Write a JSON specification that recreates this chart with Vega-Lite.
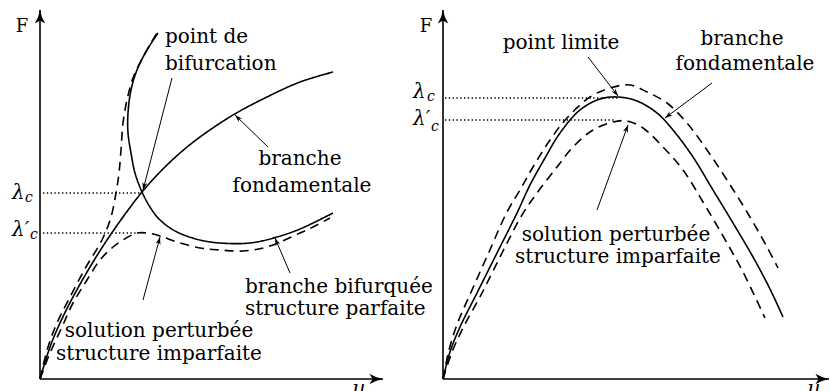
{
  "$schema": "https://vega.github.io/schema/vega-lite/v6.json",
  "padding": 0,
  "spacing": 0,
  "bounds": "flush",
  "background": "white",
  "config": {"view": {"stroke": null}},
  "datasets": {
    "gauche_courbes": [
      {"courbe": "fondamentale", "structure": "parfaite", "ord": 0, "u": 0, "F": 0},
      {"courbe": "fondamentale", "structure": "parfaite", "ord": 1, "u": 10, "F": 32},
      {"courbe": "fondamentale", "structure": "parfaite", "ord": 2, "u": 20, "F": 56},
      {"courbe": "fondamentale", "structure": "parfaite", "ord": 3, "u": 33, "F": 82},
      {"courbe": "fondamentale", "structure": "parfaite", "ord": 4, "u": 50, "F": 112},
      {"courbe": "fondamentale", "structure": "parfaite", "ord": 5, "u": 67, "F": 139},
      {"courbe": "fondamentale", "structure": "parfaite", "ord": 6, "u": 83, "F": 162},
      {"courbe": "fondamentale", "structure": "parfaite", "ord": 7, "u": 102, "F": 187},
      {"courbe": "fondamentale", "structure": "parfaite", "ord": 8, "u": 120, "F": 207},
      {"courbe": "fondamentale", "structure": "parfaite", "ord": 9, "u": 140, "F": 226},
      {"courbe": "fondamentale", "structure": "parfaite", "ord": 10, "u": 160, "F": 242},
      {"courbe": "fondamentale", "structure": "parfaite", "ord": 11, "u": 193, "F": 264},
      {"courbe": "fondamentale", "structure": "parfaite", "ord": 12, "u": 227, "F": 282},
      {"courbe": "fondamentale", "structure": "parfaite", "ord": 13, "u": 260, "F": 297},
      {"courbe": "fondamentale", "structure": "parfaite", "ord": 14, "u": 293, "F": 307},
      {"courbe": "bifurquee", "structure": "parfaite", "ord": 0, "u": 118, "F": 346},
      {"courbe": "bifurquee", "structure": "parfaite", "ord": 1, "u": 107, "F": 329},
      {"courbe": "bifurquee", "structure": "parfaite", "ord": 2, "u": 97, "F": 309},
      {"courbe": "bifurquee", "structure": "parfaite", "ord": 3, "u": 91, "F": 289},
      {"courbe": "bifurquee", "structure": "parfaite", "ord": 4, "u": 88, "F": 266},
      {"courbe": "bifurquee", "structure": "parfaite", "ord": 5, "u": 88, "F": 246},
      {"courbe": "bifurquee", "structure": "parfaite", "ord": 6, "u": 91, "F": 226},
      {"courbe": "bifurquee", "structure": "parfaite", "ord": 7, "u": 95, "F": 206},
      {"courbe": "bifurquee", "structure": "parfaite", "ord": 8, "u": 102, "F": 187},
      {"courbe": "bifurquee", "structure": "parfaite", "ord": 9, "u": 110, "F": 172},
      {"courbe": "bifurquee", "structure": "parfaite", "ord": 10, "u": 120, "F": 159},
      {"courbe": "bifurquee", "structure": "parfaite", "ord": 11, "u": 137, "F": 147},
      {"courbe": "bifurquee", "structure": "parfaite", "ord": 12, "u": 160, "F": 139},
      {"courbe": "bifurquee", "structure": "parfaite", "ord": 13, "u": 180, "F": 136},
      {"courbe": "bifurquee", "structure": "parfaite", "ord": 14, "u": 210, "F": 136},
      {"courbe": "bifurquee", "structure": "parfaite", "ord": 15, "u": 237, "F": 142},
      {"courbe": "bifurquee", "structure": "parfaite", "ord": 16, "u": 260, "F": 150},
      {"courbe": "bifurquee", "structure": "parfaite", "ord": 17, "u": 293, "F": 166},
      {"courbe": "perturbee_a", "structure": "imparfaite", "ord": 0, "u": 0, "F": 0},
      {"courbe": "perturbee_a", "structure": "imparfaite", "ord": 1, "u": 8, "F": 32},
      {"courbe": "perturbee_a", "structure": "imparfaite", "ord": 2, "u": 17, "F": 56},
      {"courbe": "perturbee_a", "structure": "imparfaite", "ord": 3, "u": 30, "F": 82},
      {"courbe": "perturbee_a", "structure": "imparfaite", "ord": 4, "u": 46, "F": 112},
      {"courbe": "perturbee_a", "structure": "imparfaite", "ord": 5, "u": 62, "F": 139},
      {"courbe": "perturbee_a", "structure": "imparfaite", "ord": 6, "u": 71, "F": 162},
      {"courbe": "perturbee_a", "structure": "imparfaite", "ord": 7, "u": 76, "F": 186},
      {"courbe": "perturbee_a", "structure": "imparfaite", "ord": 8, "u": 79, "F": 206},
      {"courbe": "perturbee_a", "structure": "imparfaite", "ord": 9, "u": 81, "F": 229},
      {"courbe": "perturbee_a", "structure": "imparfaite", "ord": 10, "u": 83, "F": 256},
      {"courbe": "perturbee_a", "structure": "imparfaite", "ord": 11, "u": 87, "F": 279},
      {"courbe": "perturbee_a", "structure": "imparfaite", "ord": 12, "u": 93, "F": 301},
      {"courbe": "perturbee_a", "structure": "imparfaite", "ord": 13, "u": 103, "F": 322},
      {"courbe": "perturbee_a", "structure": "imparfaite", "ord": 14, "u": 117, "F": 346},
      {"courbe": "perturbee_b", "structure": "imparfaite", "ord": 0, "u": 0, "F": 0},
      {"courbe": "perturbee_b", "structure": "imparfaite", "ord": 1, "u": 10, "F": 26},
      {"courbe": "perturbee_b", "structure": "imparfaite", "ord": 2, "u": 22, "F": 52},
      {"courbe": "perturbee_b", "structure": "imparfaite", "ord": 3, "u": 33, "F": 76},
      {"courbe": "perturbee_b", "structure": "imparfaite", "ord": 4, "u": 47, "F": 99},
      {"courbe": "perturbee_b", "structure": "imparfaite", "ord": 5, "u": 60, "F": 119},
      {"courbe": "perturbee_b", "structure": "imparfaite", "ord": 6, "u": 73, "F": 132},
      {"courbe": "perturbee_b", "structure": "imparfaite", "ord": 7, "u": 83, "F": 139},
      {"courbe": "perturbee_b", "structure": "imparfaite", "ord": 8, "u": 97, "F": 146},
      {"courbe": "perturbee_b", "structure": "imparfaite", "ord": 9, "u": 107, "F": 146},
      {"courbe": "perturbee_b", "structure": "imparfaite", "ord": 10, "u": 120, "F": 143},
      {"courbe": "perturbee_b", "structure": "imparfaite", "ord": 11, "u": 137, "F": 137},
      {"courbe": "perturbee_b", "structure": "imparfaite", "ord": 12, "u": 160, "F": 131},
      {"courbe": "perturbee_b", "structure": "imparfaite", "ord": 13, "u": 180, "F": 129},
      {"courbe": "perturbee_b", "structure": "imparfaite", "ord": 14, "u": 203, "F": 128},
      {"courbe": "perturbee_b", "structure": "imparfaite", "ord": 15, "u": 227, "F": 132},
      {"courbe": "perturbee_b", "structure": "imparfaite", "ord": 16, "u": 260, "F": 146},
      {"courbe": "perturbee_b", "structure": "imparfaite", "ord": 17, "u": 275, "F": 153},
      {"courbe": "perturbee_b", "structure": "imparfaite", "ord": 18, "u": 290, "F": 161}
    ],
    "gauche_pointilles": [
      {"niveau": "lambda_c", "u": 3, "u2": 100, "F": 186},
      {"niveau": "lambda_c_prime", "u": 3, "u2": 97, "F": 146}
    ],
    "gauche_axes": [
      {"axe": "F", "u": 0, "F": 0, "u2": 0, "F2": 369},
      {"axe": "u", "u": 0, "F": 0, "u2": 343, "F2": 0}
    ],
    "gauche_fleches": [
      {"cible": "point de bifurcation", "u": 132, "F": 301, "u2": 103, "F2": 189},
      {"cible": "branche fondamentale", "u": 228, "F": 232, "u2": 195, "F2": 264},
      {"cible": "solution perturbée", "u": 103, "F": 79, "u2": 120, "F2": 142},
      {"cible": "branche bifurquée", "u": 250, "F": 106, "u2": 235, "F2": 141}
    ],
    "gauche_textes": [
      {"role": "centre", "texte": "branche", "u": 260, "F": 214},
      {"role": "centre", "texte": "fondamentale", "u": 262, "F": 187},
      {"role": "centre", "texte": "solution perturbée", "u": 119, "F": 42},
      {"role": "centre", "texte": "structure imparfaite", "u": 119, "F": 19},
      {"role": "gauche", "texte": "point de", "u": 125, "F": 336},
      {"role": "gauche", "texte": "bifurcation", "u": 125, "F": 309},
      {"role": "gauche", "texte": "branche bifurquée", "u": 205, "F": 86},
      {"role": "gauche", "texte": "structure parfaite", "u": 205, "F": 64},
      {"role": "lambda", "texte": "λ", "u": -28, "F": 180},
      {"role": "lambda", "texte": "λ′", "u": -28, "F": 143},
      {"role": "indice", "texte": "c", "u": -15, "F": 177},
      {"role": "indice", "texte": "c", "u": -10, "F": 140},
      {"role": "force", "texte": "F", "u": -18, "F": 347},
      {"role": "deplacement", "texte": "u", "u": 319, "F": -16}
    ],
    "droite_courbes": [
      {"courbe": "fondamentale", "structure": "parfaite", "ord": 0, "u": 0, "F": 0},
      {"courbe": "fondamentale", "structure": "parfaite", "ord": 1, "u": 7, "F": 27},
      {"courbe": "fondamentale", "structure": "parfaite", "ord": 2, "u": 17, "F": 52},
      {"courbe": "fondamentale", "structure": "parfaite", "ord": 3, "u": 34, "F": 86},
      {"courbe": "fondamentale", "structure": "parfaite", "ord": 4, "u": 54, "F": 126},
      {"courbe": "fondamentale", "structure": "parfaite", "ord": 5, "u": 74, "F": 166},
      {"courbe": "fondamentale", "structure": "parfaite", "ord": 6, "u": 87, "F": 194},
      {"courbe": "fondamentale", "structure": "parfaite", "ord": 7, "u": 102, "F": 221},
      {"courbe": "fondamentale", "structure": "parfaite", "ord": 8, "u": 117, "F": 246},
      {"courbe": "fondamentale", "structure": "parfaite", "ord": 9, "u": 137, "F": 269},
      {"courbe": "fondamentale", "structure": "parfaite", "ord": 10, "u": 157, "F": 280},
      {"courbe": "fondamentale", "structure": "parfaite", "ord": 11, "u": 175, "F": 282},
      {"courbe": "fondamentale", "structure": "parfaite", "ord": 12, "u": 194, "F": 278},
      {"courbe": "fondamentale", "structure": "parfaite", "ord": 13, "u": 214, "F": 266},
      {"courbe": "fondamentale", "structure": "parfaite", "ord": 14, "u": 230, "F": 249},
      {"courbe": "fondamentale", "structure": "parfaite", "ord": 15, "u": 250, "F": 222},
      {"courbe": "fondamentale", "structure": "parfaite", "ord": 16, "u": 270, "F": 189},
      {"courbe": "fondamentale", "structure": "parfaite", "ord": 17, "u": 290, "F": 156},
      {"courbe": "fondamentale", "structure": "parfaite", "ord": 18, "u": 310, "F": 122},
      {"courbe": "fondamentale", "structure": "parfaite", "ord": 19, "u": 327, "F": 90},
      {"courbe": "fondamentale", "structure": "parfaite", "ord": 20, "u": 340, "F": 62},
      {"courbe": "perturbee_a", "structure": "imparfaite", "ord": 0, "u": 0, "F": 0},
      {"courbe": "perturbee_a", "structure": "imparfaite", "ord": 1, "u": 6, "F": 29},
      {"courbe": "perturbee_a", "structure": "imparfaite", "ord": 2, "u": 15, "F": 57},
      {"courbe": "perturbee_a", "structure": "imparfaite", "ord": 3, "u": 29, "F": 89},
      {"courbe": "perturbee_a", "structure": "imparfaite", "ord": 4, "u": 46, "F": 127},
      {"courbe": "perturbee_a", "structure": "imparfaite", "ord": 5, "u": 64, "F": 167},
      {"courbe": "perturbee_a", "structure": "imparfaite", "ord": 6, "u": 77, "F": 189},
      {"courbe": "perturbee_a", "structure": "imparfaite", "ord": 7, "u": 90, "F": 212},
      {"courbe": "perturbee_a", "structure": "imparfaite", "ord": 8, "u": 107, "F": 239},
      {"courbe": "perturbee_a", "structure": "imparfaite", "ord": 9, "u": 124, "F": 261},
      {"courbe": "perturbee_a", "structure": "imparfaite", "ord": 10, "u": 147, "F": 282},
      {"courbe": "perturbee_a", "structure": "imparfaite", "ord": 11, "u": 167, "F": 291},
      {"courbe": "perturbee_a", "structure": "imparfaite", "ord": 12, "u": 187, "F": 294},
      {"courbe": "perturbee_a", "structure": "imparfaite", "ord": 13, "u": 204, "F": 287},
      {"courbe": "perturbee_a", "structure": "imparfaite", "ord": 14, "u": 224, "F": 276},
      {"courbe": "perturbee_a", "structure": "imparfaite", "ord": 15, "u": 244, "F": 256},
      {"courbe": "perturbee_a", "structure": "imparfaite", "ord": 16, "u": 264, "F": 229},
      {"courbe": "perturbee_a", "structure": "imparfaite", "ord": 17, "u": 284, "F": 199},
      {"courbe": "perturbee_a", "structure": "imparfaite", "ord": 18, "u": 304, "F": 167},
      {"courbe": "perturbee_a", "structure": "imparfaite", "ord": 19, "u": 324, "F": 132},
      {"courbe": "perturbee_a", "structure": "imparfaite", "ord": 20, "u": 335, "F": 111},
      {"courbe": "perturbee_b", "structure": "imparfaite", "ord": 0, "u": 0, "F": 0},
      {"courbe": "perturbee_b", "structure": "imparfaite", "ord": 1, "u": 9, "F": 27},
      {"courbe": "perturbee_b", "structure": "imparfaite", "ord": 2, "u": 20, "F": 51},
      {"courbe": "perturbee_b", "structure": "imparfaite", "ord": 3, "u": 39, "F": 86},
      {"courbe": "perturbee_b", "structure": "imparfaite", "ord": 4, "u": 59, "F": 126},
      {"courbe": "perturbee_b", "structure": "imparfaite", "ord": 5, "u": 79, "F": 164},
      {"courbe": "perturbee_b", "structure": "imparfaite", "ord": 6, "u": 94, "F": 186},
      {"courbe": "perturbee_b", "structure": "imparfaite", "ord": 7, "u": 114, "F": 212},
      {"courbe": "perturbee_b", "structure": "imparfaite", "ord": 8, "u": 130, "F": 232},
      {"courbe": "perturbee_b", "structure": "imparfaite", "ord": 9, "u": 150, "F": 249},
      {"courbe": "perturbee_b", "structure": "imparfaite", "ord": 10, "u": 170, "F": 257},
      {"courbe": "perturbee_b", "structure": "imparfaite", "ord": 11, "u": 184, "F": 258},
      {"courbe": "perturbee_b", "structure": "imparfaite", "ord": 12, "u": 200, "F": 251},
      {"courbe": "perturbee_b", "structure": "imparfaite", "ord": 13, "u": 220, "F": 232},
      {"courbe": "perturbee_b", "structure": "imparfaite", "ord": 14, "u": 240, "F": 209},
      {"courbe": "perturbee_b", "structure": "imparfaite", "ord": 15, "u": 260, "F": 177},
      {"courbe": "perturbee_b", "structure": "imparfaite", "ord": 16, "u": 280, "F": 143},
      {"courbe": "perturbee_b", "structure": "imparfaite", "ord": 17, "u": 300, "F": 107},
      {"courbe": "perturbee_b", "structure": "imparfaite", "ord": 18, "u": 322, "F": 61}
    ],
    "droite_pointilles": [
      {"niveau": "lambda_c", "u": 2, "u2": 175, "F": 281},
      {"niveau": "lambda_c_prime", "u": 2, "u2": 172, "F": 259}
    ],
    "droite_axes": [
      {"axe": "F", "u": 0, "F": 0, "u2": 0, "F2": 369},
      {"axe": "u", "u": 0, "F": 0, "u2": 386, "F2": 0}
    ],
    "droite_fleches": [
      {"cible": "point limite", "u": 145, "F": 322, "u2": 175, "F2": 283},
      {"cible": "branche fondamentale", "u": 269, "F": 296, "u2": 222, "F2": 261},
      {"cible": "solution perturbée", "u": 154, "F": 169, "u2": 185, "F2": 254}
    ],
    "droite_textes": [
      {"role": "centre", "texte": "point limite", "u": 118, "F": 330},
      {"role": "centre", "texte": "branche", "u": 299, "F": 334},
      {"role": "centre", "texte": "fondamentale", "u": 302, "F": 309},
      {"role": "centre", "texte": "solution perturbée", "u": 173, "F": 138},
      {"role": "centre", "texte": "structure imparfaite", "u": 175, "F": 116},
      {"role": "lambda", "texte": "λ", "u": -30, "F": 281},
      {"role": "lambda", "texte": "λ′", "u": -30, "F": 254},
      {"role": "indice", "texte": "c", "u": -16, "F": 278},
      {"role": "indice", "texte": "c", "u": -12, "F": 248},
      {"role": "force", "texte": "F", "u": -17, "F": 347},
      {"role": "deplacement", "texte": "u", "u": 371, "F": -16}
    ]
  },
  "hconcat": [
    {
      "width": 415,
      "height": 391,
      "encoding": {
        "x": {"field": "u", "type": "quantitative", "scale": {"domain": [-40, 375], "nice": false, "zero": false}, "axis": null},
        "y": {"field": "F", "type": "quantitative", "scale": {"domain": [-12, 379], "nice": false, "zero": false}, "axis": null}
      },
      "layer": [
        {
          "data": {"name": "gauche_pointilles"},
          "mark": {"type": "rule", "strokeDash": [1.4, 2.4], "strokeWidth": 1.3, "color": "black"},
          "encoding": {"x2": {"field": "u2"}}
        },
        {
          "data": {"name": "gauche_courbes"},
          "mark": {"type": "line", "interpolate": "catmull-rom", "strokeWidth": 1.6, "color": "black"},
          "encoding": {
            "detail": {"field": "courbe"},
            "order": {"field": "ord", "type": "quantitative"},
            "strokeDash": {"field": "structure", "type": "nominal", "scale": {"domain": ["parfaite", "imparfaite"], "range": [[1, 0], [9, 6]]}, "legend": null}
          }
        },
        {
          "data": {"name": "gauche_axes"},
          "mark": {"type": "rule", "strokeWidth": 1.6, "color": "black"},
          "encoding": {"x2": {"field": "u2"}, "y2": {"field": "F2"}}
        },
        {
          "data": {"name": "gauche_axes"},
          "transform": [{"calculate": "atan2(datum.u2 - datum.u, datum.F2 - datum.F) * 180 / PI", "as": "cap"}],
          "mark": {"type": "point", "shape": "M0,0Q0.15,0.9,0.65,1.7L0,1.3L-0.65,1.7Q-0.15,0.9,0,0Z", "filled": true, "size": 256, "opacity": 1, "strokeWidth": 0, "color": "black"},
          "encoding": {
            "x": {"field": "u2", "type": "quantitative", "scale": {"domain": [-40, 375], "nice": false, "zero": false}, "axis": null},
            "y": {"field": "F2", "type": "quantitative", "scale": {"domain": [-12, 379], "nice": false, "zero": false}, "axis": null},
            "angle": {"field": "cap", "type": "quantitative", "scale": null}
          }
        },
        {
          "data": {"name": "gauche_fleches"},
          "mark": {"type": "rule", "strokeWidth": 1, "color": "black"},
          "encoding": {"x2": {"field": "u2"}, "y2": {"field": "F2"}}
        },
        {
          "data": {"name": "gauche_fleches"},
          "transform": [{"calculate": "atan2(datum.u2 - datum.u, datum.F2 - datum.F) * 180 / PI", "as": "cap"}],
          "mark": {"type": "point", "shape": "M0,0L0.5,1.5L0,1.1L-0.5,1.5Z", "filled": true, "size": 100, "opacity": 1, "strokeWidth": 0, "color": "black"},
          "encoding": {
            "x": {"field": "u2", "type": "quantitative", "scale": {"domain": [-40, 375], "nice": false, "zero": false}, "axis": null},
            "y": {"field": "F2", "type": "quantitative", "scale": {"domain": [-12, 379], "nice": false, "zero": false}, "axis": null},
            "angle": {"field": "cap", "type": "quantitative", "scale": null}
          }
        },
        {
          "data": {"name": "gauche_textes"},
          "transform": [{"filter": "datum.role === 'centre'"}],
          "mark": {"type": "text", "font": "DejaVu Serif", "fontSize": 20, "align": "center", "baseline": "alphabetic", "color": "black"},
          "encoding": {"text": {"field": "texte"}}
        },
        {
          "data": {"name": "gauche_textes"},
          "transform": [{"filter": "datum.role === 'gauche'"}],
          "mark": {"type": "text", "font": "DejaVu Serif", "fontSize": 20, "align": "left", "baseline": "alphabetic", "color": "black"},
          "encoding": {"text": {"field": "texte"}}
        },
        {
          "data": {"name": "gauche_textes"},
          "transform": [{"filter": "datum.role === 'lambda'"}],
          "mark": {"type": "text", "font": "DejaVu Serif", "fontStyle": "italic", "fontSize": 20, "align": "left", "baseline": "alphabetic", "color": "black"},
          "encoding": {"text": {"field": "texte"}}
        },
        {
          "data": {"name": "gauche_textes"},
          "transform": [{"filter": "datum.role === 'indice'"}],
          "mark": {"type": "text", "font": "DejaVu Serif", "fontStyle": "italic", "fontSize": 14, "align": "left", "baseline": "alphabetic", "color": "black"},
          "encoding": {"text": {"field": "texte"}}
        },
        {
          "data": {"name": "gauche_textes"},
          "transform": [{"filter": "datum.role === 'force'"}],
          "mark": {"type": "text", "font": "DejaVu Serif", "fontSize": 18, "align": "center", "baseline": "alphabetic", "color": "black"},
          "encoding": {"text": {"field": "texte"}}
        },
        {
          "data": {"name": "gauche_textes"},
          "transform": [{"filter": "datum.role === 'deplacement'"}],
          "mark": {"type": "text", "font": "DejaVu Serif", "fontStyle": "italic", "fontSize": 20, "align": "center", "baseline": "alphabetic", "color": "black", "clip": true},
          "encoding": {"text": {"field": "texte"}}
        }
      ]
    },
    {
      "width": 415,
      "height": 391,
      "encoding": {
        "x": {"field": "u", "type": "quantitative", "scale": {"domain": [-28, 387], "nice": false, "zero": false}, "axis": null},
        "y": {"field": "F", "type": "quantitative", "scale": {"domain": [-12, 379], "nice": false, "zero": false}, "axis": null}
      },
      "layer": [
        {
          "data": {"name": "droite_pointilles"},
          "mark": {"type": "rule", "strokeDash": [1.4, 2.4], "strokeWidth": 1.3, "color": "black"},
          "encoding": {"x2": {"field": "u2"}}
        },
        {
          "data": {"name": "droite_courbes"},
          "mark": {"type": "line", "interpolate": "catmull-rom", "strokeWidth": 1.6, "color": "black"},
          "encoding": {
            "detail": {"field": "courbe"},
            "order": {"field": "ord", "type": "quantitative"},
            "strokeDash": {"field": "structure", "type": "nominal", "scale": {"domain": ["parfaite", "imparfaite"], "range": [[1, 0], [9, 6]]}, "legend": null}
          }
        },
        {
          "data": {"name": "droite_axes"},
          "mark": {"type": "rule", "strokeWidth": 1.6, "color": "black"},
          "encoding": {"x2": {"field": "u2"}, "y2": {"field": "F2"}}
        },
        {
          "data": {"name": "droite_axes"},
          "transform": [{"calculate": "atan2(datum.u2 - datum.u, datum.F2 - datum.F) * 180 / PI", "as": "cap"}],
          "mark": {"type": "point", "shape": "M0,0Q0.15,0.9,0.65,1.7L0,1.3L-0.65,1.7Q-0.15,0.9,0,0Z", "filled": true, "size": 256, "opacity": 1, "strokeWidth": 0, "color": "black"},
          "encoding": {
            "x": {"field": "u2", "type": "quantitative", "scale": {"domain": [-28, 387], "nice": false, "zero": false}, "axis": null},
            "y": {"field": "F2", "type": "quantitative", "scale": {"domain": [-12, 379], "nice": false, "zero": false}, "axis": null},
            "angle": {"field": "cap", "type": "quantitative", "scale": null}
          }
        },
        {
          "data": {"name": "droite_fleches"},
          "mark": {"type": "rule", "strokeWidth": 1, "color": "black"},
          "encoding": {"x2": {"field": "u2"}, "y2": {"field": "F2"}}
        },
        {
          "data": {"name": "droite_fleches"},
          "transform": [{"calculate": "atan2(datum.u2 - datum.u, datum.F2 - datum.F) * 180 / PI", "as": "cap"}],
          "mark": {"type": "point", "shape": "M0,0L0.5,1.5L0,1.1L-0.5,1.5Z", "filled": true, "size": 100, "opacity": 1, "strokeWidth": 0, "color": "black"},
          "encoding": {
            "x": {"field": "u2", "type": "quantitative", "scale": {"domain": [-28, 387], "nice": false, "zero": false}, "axis": null},
            "y": {"field": "F2", "type": "quantitative", "scale": {"domain": [-12, 379], "nice": false, "zero": false}, "axis": null},
            "angle": {"field": "cap", "type": "quantitative", "scale": null}
          }
        },
        {
          "data": {"name": "droite_textes"},
          "transform": [{"filter": "datum.role === 'centre'"}],
          "mark": {"type": "text", "font": "DejaVu Serif", "fontSize": 20, "align": "center", "baseline": "alphabetic", "color": "black"},
          "encoding": {"text": {"field": "texte"}}
        },
        {
          "data": {"name": "droite_textes"},
          "transform": [{"filter": "datum.role === 'lambda'"}],
          "mark": {"type": "text", "font": "DejaVu Serif", "fontStyle": "italic", "fontSize": 20, "align": "left", "baseline": "alphabetic", "color": "black"},
          "encoding": {"text": {"field": "texte"}}
        },
        {
          "data": {"name": "droite_textes"},
          "transform": [{"filter": "datum.role === 'indice'"}],
          "mark": {"type": "text", "font": "DejaVu Serif", "fontStyle": "italic", "fontSize": 14, "align": "left", "baseline": "alphabetic", "color": "black"},
          "encoding": {"text": {"field": "texte"}}
        },
        {
          "data": {"name": "droite_textes"},
          "transform": [{"filter": "datum.role === 'force'"}],
          "mark": {"type": "text", "font": "DejaVu Serif", "fontSize": 18, "align": "center", "baseline": "alphabetic", "color": "black"},
          "encoding": {"text": {"field": "texte"}}
        },
        {
          "data": {"name": "droite_textes"},
          "transform": [{"filter": "datum.role === 'deplacement'"}],
          "mark": {"type": "text", "font": "DejaVu Serif", "fontStyle": "italic", "fontSize": 20, "align": "center", "baseline": "alphabetic", "color": "black", "clip": true},
          "encoding": {"text": {"field": "texte"}}
        }
      ]
    }
  ]
}
